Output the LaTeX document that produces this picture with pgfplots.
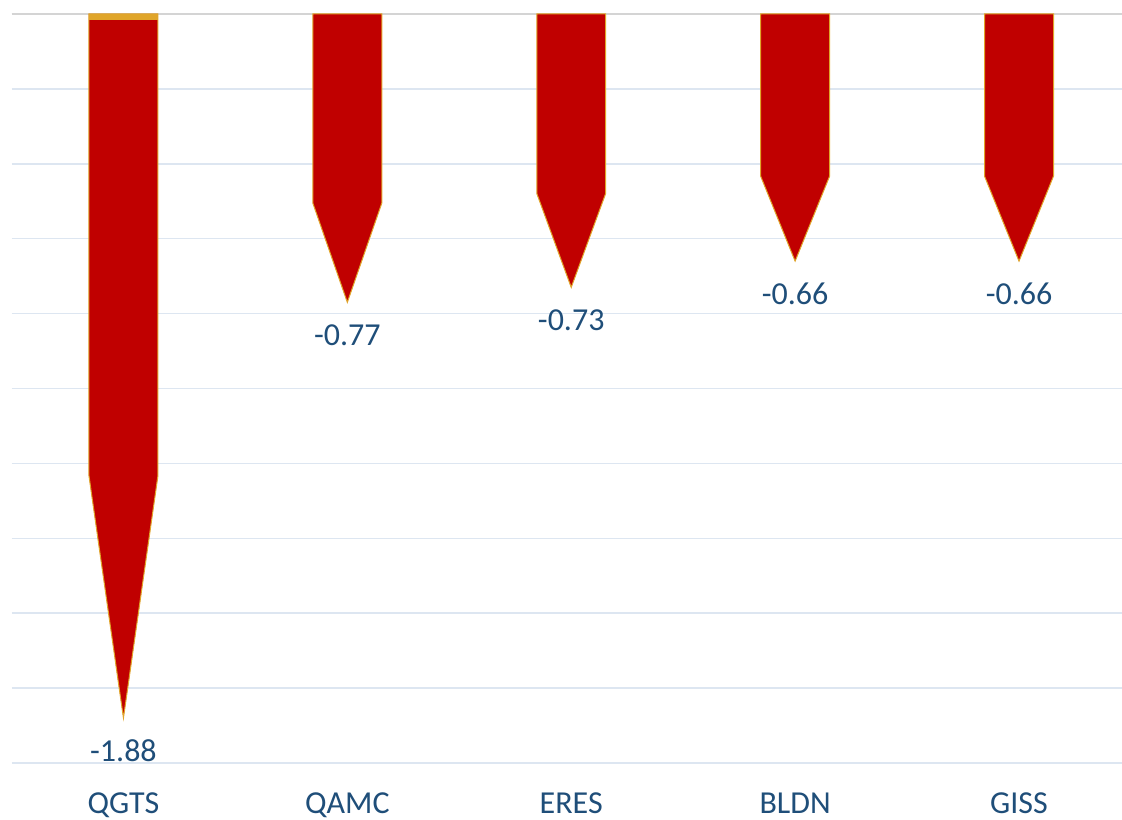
\documentclass[border=0pt]{standalone}
\usepackage{fontspec}
\setmainfont{Carlito}
\usepackage{pgfplots}
\pgfplotsset{compat=1.18}

\definecolor{barred}{HTML}{C00000}
\definecolor{edgegold}{HTML}{E0A52A}
\definecolor{txtblue}{HTML}{1F4E79}
\definecolor{gridblue}{HTML}{DDE6F1}
\definecolor{zerogray}{HTML}{D4D4D4}

\begin{document}
\begin{tikzpicture}
\begin{axis}[
  at={(0,0)}, anchor=south west,
  scale only axis,
  width=555.25pt, height=374.5pt,
  xmin=-0.5, xmax=4.46,
  ymin=-2, ymax=0,
  axis line style={draw=none},
  major tick length=0pt,
  ytick={-2,-1.8,...,-0.1},
  yticklabels={},
  ymajorgrids=true,
  grid style={gridblue, line width=0.8pt},
  extra y ticks={0},
  extra y tick labels={},
  extra y tick style={grid style={zerogray, line width=1.1pt}},
  xtick={0,1,2,3,4},
  xticklabels={QGTS,QAMC,ERES,BLDN,GISS},
  xticklabel style={anchor=base, yshift=-25pt, text=txtblue,
    font=\fontsize{16}{19}\selectfont},
  clip=false,
]
\addplot[fill=barred, draw=edgegold, line width=0.5pt] coordinates
  {(-0.154,0) (0.154,0) (0.154,-1.233) (0,-1.88) (-0.154,-1.233)} -- cycle;
\addplot[fill=barred, draw=edgegold, line width=0.5pt] coordinates
  {(0.846,0) (1.154,0) (1.154,-0.505) (1,-0.77) (0.846,-0.505)} -- cycle;
\addplot[fill=barred, draw=edgegold, line width=0.5pt] coordinates
  {(1.846,0) (2.154,0) (2.154,-0.479) (2,-0.73) (1.846,-0.479)} -- cycle;
\addplot[fill=barred, draw=edgegold, line width=0.5pt] coordinates
  {(2.846,0) (3.154,0) (3.154,-0.433) (3,-0.66) (2.846,-0.433)} -- cycle;
\addplot[fill=barred, draw=edgegold, line width=0.5pt] coordinates
  {(3.846,0) (4.154,0) (4.154,-0.433) (4,-0.66) (3.846,-0.433)} -- cycle;
% thin gold cap on the first bar
\addplot[fill=edgegold, draw=none] coordinates
  {(-0.154,0) (0.154,0) (0.154,-0.016) (-0.154,-0.016)} -- cycle;
% value labels under the tips
\addplot[draw=none, mark=none,
  nodes near coords, point meta=explicit symbolic,
  every node near coord/.style={anchor=base, yshift=-21.5pt, text=txtblue,
    font=\fontsize{16}{19}\selectfont}]
  coordinates {(0,-1.88)[-1.88] (1,-0.77)[-0.77] (2,-0.73)[-0.73]
               (3,-0.66)[-0.66] (4,-0.66)[-0.66]};
\end{axis}
\pgfresetboundingbox
\path[use as bounding box] (-5.75pt,-28pt) rectangle (555.25pt,381.5pt);
\end{tikzpicture}
\end{document}
